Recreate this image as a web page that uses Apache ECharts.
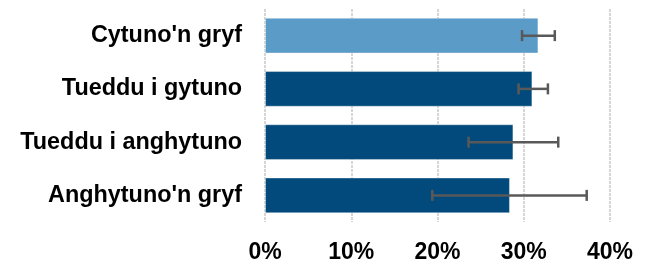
<!DOCTYPE html>
<html>
<head>
<meta charset="utf-8">
<script src="https://cdn.jsdelivr.net/npm/echarts@6/dist/echarts.min.js"></script>
<style>
  html, body { margin: 0; padding: 0; background: #fff; }
  #main { width: 648px; height: 264px; }
</style>
</head>
<body>
<div id="main"></div>
<script>
// categories, top to bottom
const categories = ["Cytuno'n gryf", 'Tueddu i gytuno', 'Tueddu i anghytuno', "Anghytuno'n gryf"]
const values = [31.7, 31.0, 28.8, 28.4]
const errLow = [29.8, 29.4, 23.6, 19.4]
const errHigh = [33.6, 32.8, 34.0, 37.3]
const barColors = ['#5b9bc8', '#024a7b', '#024a7b', '#024a7b']

const chart = echarts.init(document.getElementById('main'))

const option = {
  animation: false,
  grid: { left: 265, right: 38, top: 9, bottom: 38 },
  xAxis: {
    type: 'value',
    min: 0,
    max: 40,
    interval: 10,
    axisLine: { show: false },
    axisTick: { show: false },
    splitLine: { show: true, lineStyle: { color: '#d6d6d6', width: 2, type: [3, 1] } },
    axisLabel: {
      formatter: '{value}%',
      color: '#000',
      fontFamily: 'Liberation Sans, Arial, sans-serif',
      fontWeight: 'bold',
      fontSize: 23,
      margin: 19
    }
  },
  yAxis: {
    type: 'category',
    inverse: true,
    data: categories,
    axisLine: { show: false },
    axisTick: { show: false },
    axisLabel: {
      color: '#000',
      fontFamily: 'Liberation Sans, Arial, sans-serif',
      fontWeight: 'bold',
      fontSize: 23.4,
      margin: 23
    }
  },
  series: [
    {
      type: 'bar',
      barCategoryGap: '33%',
      data: values.map((v, i) => ({
        value: v,
        itemStyle: { color: barColors[i] }
      })),
      itemStyle: { borderColor: 'rgba(255,255,255,0.35)', borderWidth: 1 }
    },
    {
      type: 'custom',
      z: 5,
      data: categories.map((c, i) => [i, errLow[i], errHigh[i]]),
      renderItem: (params, api) => {
        const lo = api.coord([api.value(1), api.value(0)])
        const hi = api.coord([api.value(2), api.value(0)])
        const h = 5.5
        const style = { stroke: '#595959', lineWidth: 2.5 }
        return {
          type: 'group',
          children: [
            { type: 'line', shape: { x1: lo[0], y1: lo[1], x2: hi[0], y2: hi[1] }, style },
            { type: 'line', shape: { x1: lo[0], y1: lo[1] - h, x2: lo[0], y2: lo[1] + h }, style },
            { type: 'line', shape: { x1: hi[0], y1: hi[1] - h, x2: hi[0], y2: hi[1] + h }, style }
          ]
        }
      },
      encode: { x: [1, 2], y: 0 }
    }
  ]
}

option && chart.setOption(option)
</script>
</body>
</html>
